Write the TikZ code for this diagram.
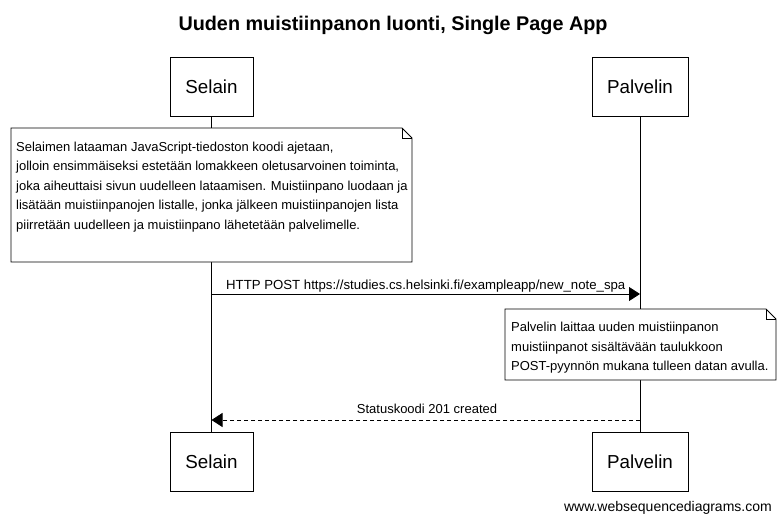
\documentclass[tikz,border=0pt]{standalone}
\usepackage{fontspec}
\setmainfont{Liberation Sans}
\usetikzlibrary{arrows.meta}
\begin{document}
\begin{tikzpicture}[x=1pt,y=-1pt,
  actor/.style={draw,fill=white,line width=0.8pt,minimum width=83pt,minimum height=59pt,inner sep=0pt,font=\fontsize{18.8}{22}\selectfont},
  life/.style={line width=0.8pt},
  notetext/.style={anchor=west,inner sep=0pt,font=\fontsize{13}{15}\selectfont},
  msg/.style={line width=0.8pt,-{Triangle[length=11pt,width=14pt]}},
  lbl/.style={inner sep=0pt,font=\fontsize{13}{15}\selectfont}]
\useasboundingbox (0,0) rectangle (782,523);
\node[font=\bfseries\fontsize{19.8}{22}\selectfont] (title) at (393,25) {Uuden muistiinpanon luonti, Single Page App};
% actors
\node[actor] (s1) at (211.5,86.5) {Selain};
\node[actor,minimum width=96pt] (p1) at (640,86.5) {Palvelin};
\node[actor] (s2) at (211.5,461.5) {Selain};
\node[actor,minimum width=96pt] (p2) at (640,461.5) {Palvelin};
\draw[life] (s1.south) -- (s2.north);
\draw[life] (p1.south) -- (p2.north);
% note 1
\draw[fill=white,line width=0.8pt] (11,128) -- (402,128) -- (412,138) -- (412,262) -- (11,262) -- cycle;
\draw[line width=0.6pt] (402,128) -- (402,138) -- (412,138);
\node[notetext] (n1a) at (16,148) {Selaimen lataaman JavaScript-tiedoston koodi ajetaan,};
\node[notetext] (n1b) at (16,167.5) {jolloin ensimmäiseksi estetään lomakkeen oletusarvoinen toiminta,};
\node[notetext] (n1c) at (16,187) {joka aiheuttaisi sivun uudelleen lataamisen. Muistiinpano luodaan ja};
\node[notetext] (n1d) at (16,206.5) {lisätään muistiinpanojen listalle, jonka jälkeen muistiinpanojen lista};
\node[notetext] (n1e) at (16,226) {piirretään uudelleen ja muistiinpano lähetetään palvelimelle.};
% message 1
\coordinate (m1s) at (211.5,294);
\coordinate (m1e) at (640,294);
\draw[msg] (m1s) -- (m1e);
\node[lbl,anchor=west,font=\fontsize{13.2}{15}\selectfont] (l1) at (226,286) {HTTP POST https://studies.cs.helsinki.fi/exampleapp/new\_note\_spa};
% note 2
\draw[fill=white,line width=0.8pt] (505,309) -- (766,309) -- (776,319) -- (776,380) -- (505,380) -- cycle;
\draw[line width=0.6pt] (766,309) -- (766,319) -- (776,319);
\node[notetext] (n2a) at (511,328.5) {Palvelin laittaa uuden muistiinpanon};
\node[notetext] (n2b) at (511,348) {muistiinpanot sisältävään taulukkoon};
\node[notetext] (n2c) at (511,367) {POST-pyynnön mukana tulleen datan avulla.};
% message 2
\coordinate (m2s) at (640,420);
\coordinate (m2e) at (211.5,420);
\draw[msg,dash pattern=on 4pt off 3pt] (m2s) -- (m2e);
\node[lbl] (l2) at (427,409) {Statuskoodi 201 created};
% footer
\node[lbl,anchor=east,font=\fontsize{14}{16}\selectfont] (footer) at (772,508) {www.websequencediagrams.com};
\end{tikzpicture}
\end{document}
